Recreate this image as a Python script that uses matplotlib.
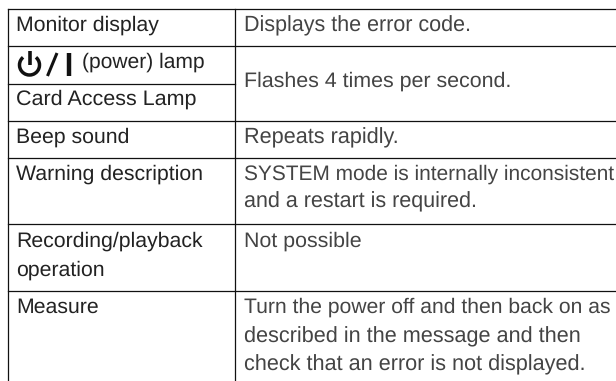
import matplotlib
matplotlib.use('Agg')
import matplotlib.pyplot as plt
from matplotlib.patches import Arc

plt.rcParams['font.family'] = ['Liberation Sans', 'DejaVu Sans']
plt.rcParams['text.hinting'] = 'no_hinting'
plt.rcParams['text.hinting_factor'] = 8

# Table text
left_labels = ['Monitor display', '(power) lamp', 'Card Access Lamp', 'Beep sound',
               'Warning description', 'Recording/playback', 'operation', 'Measure']
right_labels = ['Displays the error code.', 'Flashes 4 times per second.', 'Repeats rapidly.',
                'SYSTEM mode is internally inconsistent', 'and a restart is required.',
                'Not possible', 'Turn the power off and then back on as',
                'described in the message and then',
                'check that an error is not displayed.']

# Layout in pixels
left_baselines = [31, 68, 105, 143, 180, 247, 276, 313]
right_baselines = [31, 87, 143, 180, 207, 247, 313, 342, 370]
left_xs = [16, 82, 16, 16, 16, 16, 16, 16]
# the original font is a bit wider than Liberation on lowercase, narrower on caps
left_sizes = [15.3, 15.1, 15.45, 15.3, 15.35, 15.3, 15.3, 15.3]
right_sizes = [15.5, 15.4, 15.55, 15.0, 15.5, 15.4, 15.2, 15.6, 15.55]
row_lines = [8.5, 45.5, 83.5, 120.5, 157.5, 224, 291]
left_only_line = 83.5
left_edge = 7.5
col_edge = 234.5

fig = plt.figure(figsize=(6.16, 3.81), dpi=100)
ax = fig.add_axes([0, 0, 1, 1])
ax.set_xlim(0, 616)
ax.set_ylim(381, 0)
ax.axis('off')

# Grid lines, open at the right and bottom
line_color = '#111111'
for y in row_lines:
    if y == left_only_line:
        ax.plot([left_edge, col_edge], [y, y], color=line_color, lw=0.9)
    else:
        ax.plot([left_edge, 616], [y, y], color=line_color, lw=0.9)
ax.plot([left_edge, left_edge], [row_lines[0], 381], color=line_color, lw=0.9)
ax.plot([col_edge, col_edge], [row_lines[0], 381], color=line_color, lw=0.9)

# Text
for label, x, y, size in zip(left_labels, left_xs, left_baselines, left_sizes):
    ax.text(x, y, label, fontsize=size, color='#222222', va='baseline', ha='left')
for label, y, size in zip(right_labels, right_baselines, right_sizes):
    ax.text(244, y, label, fontsize=size, color='#444444', va='baseline', ha='left')

# Power symbol, slash and bar
ax.add_patch(Arc((29.5, 65), 20, 20, theta1=-50, theta2=230, color='#111111', lw=2.5))
ax.plot([29.5, 29.5], [51, 65], color='#111111', lw=2.6, solid_capstyle='butt')
ax.plot([47.5, 57], [76, 53], color='#111111', lw=2.2, solid_capstyle='butt')
ax.plot([68.5, 68.5], [53, 76], color='#111111', lw=3.2, solid_capstyle='butt')

fig.savefig('out.png', dpi=100)
